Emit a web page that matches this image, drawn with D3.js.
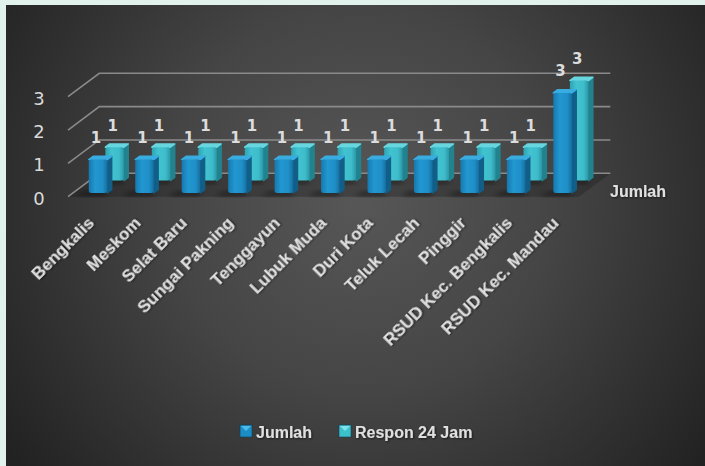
<!DOCTYPE html>
<html>
<head>
<meta charset="utf-8">
<script src="https://cdn.jsdelivr.net/npm/d3@7"></script>
<style>
  html, body { margin: 0; padding: 0; background: #e1f2ec; }
  svg { display: block; }
</style>
</head>
<body>
<svg id="chart" width="705" height="466"></svg>
<script>
// Categories and series values
const categories = ["Bengkalis", "Meskom", "Selat Baru", "Sungai Pakning", "Tenggayun",
  "Lubuk Muda", "Duri Kota", "Teluk Lecah", "Pinggir", "RSUD Kec. Bengkalis", "RSUD Kec. Mandau"];
const jumlah = [1, 1, 1, 1, 1, 1, 1, 1, 1, 1, 3];
const respon24Jam = [1, 1, 1, 1, 1, 1, 1, 1, 1, 1, 3];
const seriesNames = ["Jumlah", "Respon 24 Jam"];
const valueTicks = [0, 1, 2, 3];
const depthAxisLabel = "Jumlah";

const svg = d3.select("#chart");
const defs = svg.append("defs");

// Panel background: dark radial gradient
const bg = defs.append("radialGradient").attr("id", "bgGrad")
  .attr("gradientUnits", "userSpaceOnUse")
  .attr("cx", 360).attr("cy", 200).attr("r", 430);
[[0, "#575757"], [0.45, "#454545"], [1, "#222222"]].forEach(([o, c]) =>
  bg.append("stop").attr("offset", o).attr("stop-color", c));

svg.append("rect").attr("x", 6).attr("y", 5).attr("width", 699).attr("height", 461)
  .attr("fill", "url(#bgGrad)");

// Oblique projection: depth z in [0,1] shifts right and up
const DX = 31.3, DY = 23.4;
const x = d3.scaleBand().domain(categories).range([68, 579]);
const y = d3.scaleLinear().domain([0, 3]).range([196.7, 96.7]);
const P = (px, v, z) => [px + z * DX, y(v) - z * DY];

// Floor
const floor = [P(x.range()[0], 0, 0), P(x.range()[1], 0, 0), P(x.range()[1], 0, 1), P(x.range()[0], 0, 1)];
svg.append("path").attr("d", "M" + floor.join("L") + "Z").attr("fill", "#1e1e1e").attr("opacity", 0.35);

// Gridlines: side wall diagonals and back wall lines
const grid = svg.append("g").attr("stroke", "#8a8a8a").attr("stroke-width", 1.6).attr("fill", "none");
valueTicks.forEach(v => {
  const a = P(x.range()[0], v, 0), b = P(x.range()[0], v, 1), c = P(x.range()[1], v, 1);
  grid.append("path").attr("d", `M${a}L${b}L${c}`);
});

// Value axis tick labels
svg.append("g").selectAll("text").data(valueTicks).join("text")
  .attr("x", 39).attr("y", d => y(d) + 1.5).attr("dy", "0.36em")
  .attr("text-anchor", "middle")
  .attr("font-family", "DejaVu Sans").attr("font-size", 18)
  .attr("fill", "#d9d9d9").text(d => d);

// Bar gradients
function faceGrad(id, stops) {
  const g = defs.append("linearGradient").attr("id", id).attr("x1", 0).attr("x2", 1).attr("y1", 0).attr("y2", 0);
  stops.forEach(([o, c]) => g.append("stop").attr("offset", o).attr("stop-color", c));
}
faceGrad("blueFront", [[0, "#1679b0"], [0.35, "#2297d0"], [0.75, "#1f8fc8"], [1, "#166f9f"]]);
faceGrad("cyanFront", [[0, "#2ea3b3"], [0.35, "#42c3d0"], [0.75, "#3ebccb"], [1, "#2b97a6"]]);

const seriesStyle = [
  { values: jumlah, z: 0.16, front: "url(#blueFront)", side: "#115f89", top: "#39ace0", marker: "#1b8cc4", markerTop: "#4cbbe8" },
  { values: respon24Jam, z: 0.69, front: "url(#cyanFront)", side: "#22838f", top: "#68d6df", marker: "#3cc0cc", markerTop: "#7fe1ea" }
];

const shadowFilter = defs.append("filter").attr("id", "soft").attr("x", "-50%").attr("y", "-50%").attr("width", "200%").attr("height", "200%");
shadowFilter.append("feGaussianBlur").attr("stdDeviation", 2.5);

const BW = 18.5, BD = 0.14, SHIFT = 1.8;
const barsG = svg.append("g");
const labelsG = svg.append("g");

// Draw back series first so front series overlaps it
[1, 0].forEach(si => {
  const s = seriesStyle[si];
  categories.forEach((cat, i) => {
    const v = s.values[i];
    const cx = x(cat) + x.bandwidth() / 2 + SHIFT;
    const x0 = cx - BW / 2, x1 = cx + BW / 2;
    const g = barsG.append("g");
    // floor shadow
    const sh = [P(x0 - 6, 0, s.z + 0.05), P(x1, 0, s.z + 0.05), P(x1 + 2, 0, s.z - 0.12), P(x0 - 10, 0, s.z - 0.12)];
    g.append("path").attr("d", "M" + sh.join("L") + "Z").attr("fill", "#000").attr("opacity", 0.45).attr("filter", "url(#soft)");
    // side face
    const side = [P(x1, 0, s.z), P(x1, v, s.z), P(x1, v, s.z + BD), P(x1, 0, s.z + BD)];
    g.append("path").attr("d", "M" + side.join("L") + "Z").attr("fill", s.side)
      .attr("stroke", s.side).attr("stroke-width", 1.5).attr("stroke-linejoin", "round");
    // top face
    const top = [P(x0, v, s.z), P(x1, v, s.z), P(x1, v, s.z + BD), P(x0, v, s.z + BD)];
    g.append("path").attr("d", "M" + top.join("L") + "Z").attr("fill", s.top)
      .attr("stroke", s.top).attr("stroke-width", 1.5).attr("stroke-linejoin", "round");
    // front face
    const f0 = P(x0, v, s.z), f1 = P(x1, 0, s.z);
    g.append("rect").attr("x", f0[0]).attr("y", f0[1]).attr("width", f1[0] - f0[0]).attr("height", f1[1] - f0[1])
      .attr("rx", 2.5).attr("fill", s.front);
    // value label
    labelsG.append("text")
      .attr("x", (f0[0] + f1[0]) / 2 - 2).attr("y", f0[1] - 22).attr("dy", "0.36em")
      .attr("text-anchor", "middle")
      .attr("font-family", "DejaVu Sans").attr("font-weight", "bold").attr("font-size", 15)
      .attr("fill", "#dcdcdc").text(v);
  });
});

// Category labels
const textShadow = defs.append("filter").attr("id", "tshadow").attr("x", "-10%").attr("y", "-30%").attr("width", "130%").attr("height", "160%");
textShadow.append("feDropShadow").attr("dx", 1).attr("dy", 1).attr("stdDeviation", 0.8).attr("flood-color", "#000").attr("flood-opacity", 0.6);

svg.append("g").selectAll("text").data(categories).join("text")
  .attr("transform", d => `translate(${x(d) + x.bandwidth() / 2 + 4},${224}) rotate(-45)`)
  .attr("text-anchor", "end")
  .attr("font-family", "Liberation Sans, Arial, sans-serif").attr("font-weight", "bold").attr("font-size", 17)
  .attr("fill", "#e0e0e0").attr("filter", "url(#tshadow)")
  .text(d => d);

// Depth axis label
svg.append("text").attr("x", 610).attr("y", 197)
  .attr("font-family", "Liberation Sans, Arial, sans-serif").attr("font-weight", "bold").attr("font-size", 16)
  .attr("fill", "#e0e0e0").attr("filter", "url(#tshadow)").text(depthAxisLabel);

// Legend
const legendX = [240, 339];
const legend = svg.append("g");
seriesNames.forEach((name, i) => {
  const s = seriesStyle[i];
  const lx = legendX[i], ly = 425;
  legend.append("rect").attr("x", lx).attr("y", ly).attr("width", 12).attr("height", 12)
    .attr("fill", s.marker).attr("stroke", "#0e3f57").attr("stroke-width", 0.6);
  legend.append("path").attr("d", `M${lx + 1},${ly + 1}L${lx + 11},${ly + 1}L${lx + 6},${ly + 6}Z`).attr("fill", s.markerTop);
  legend.append("text").attr("x", lx + 16).attr("y", ly + 12.5)
    .attr("font-family", "Liberation Sans, Arial, sans-serif").attr("font-weight", "bold").attr("font-size", 16)
    .attr("fill", "#e0e0e0").attr("filter", "url(#tshadow)").text(name);
});
</script>
</body>
</html>
